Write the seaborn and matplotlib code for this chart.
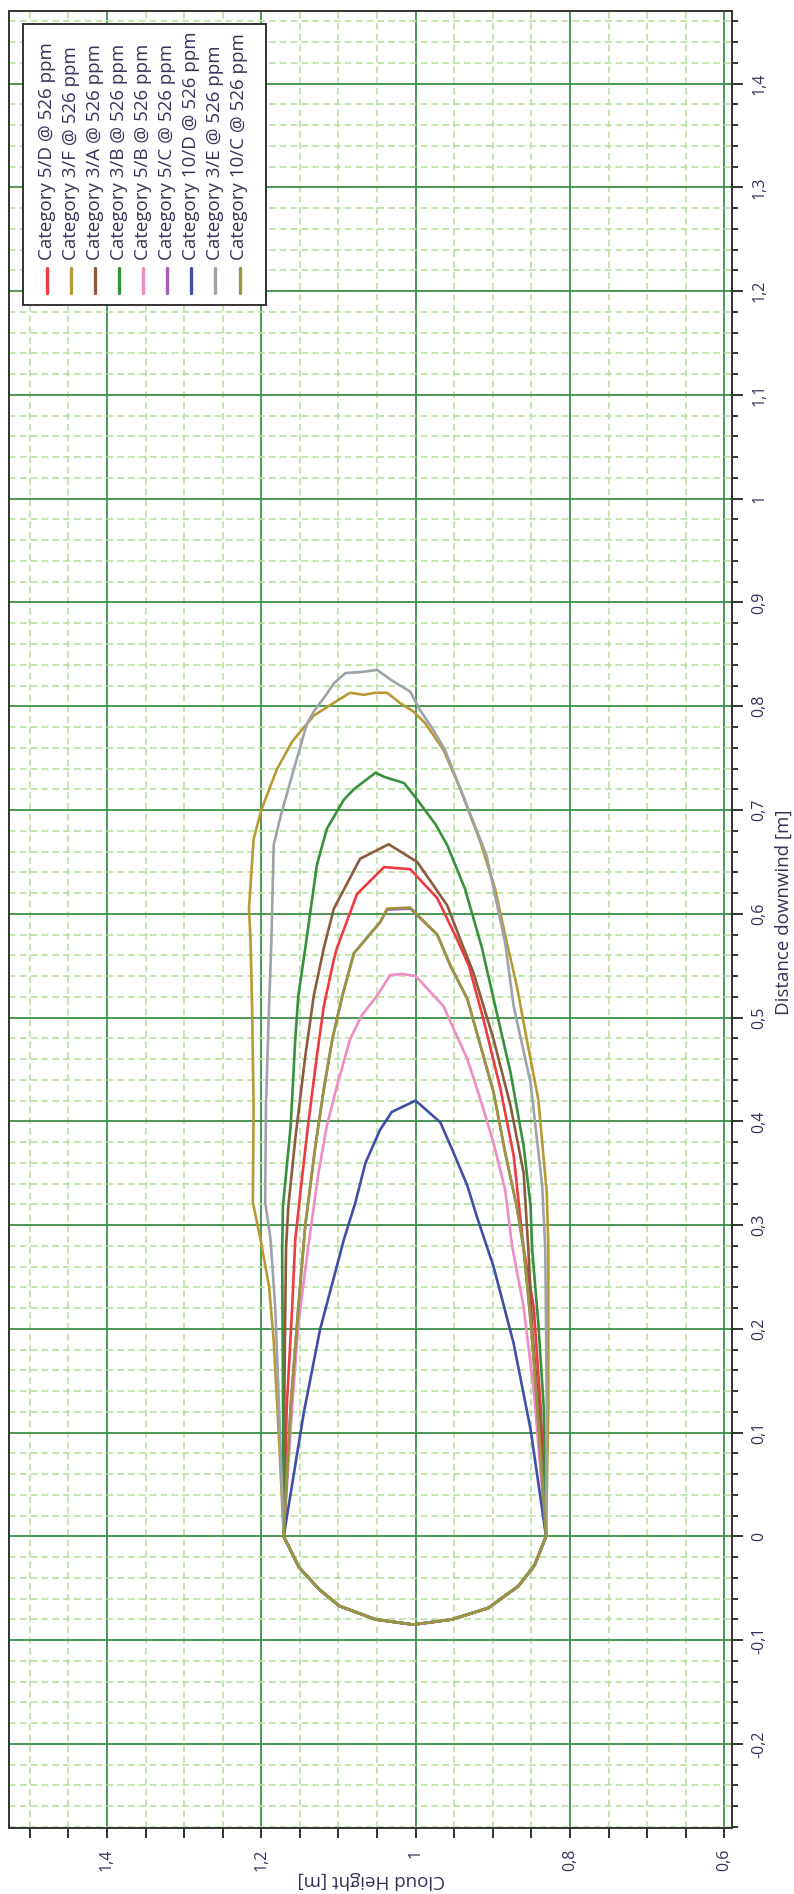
import matplotlib
matplotlib.use("Agg")
import matplotlib.pyplot as plt
from matplotlib.ticker import MultipleLocator, FuncFormatter
from matplotlib.patches import Rectangle
from matplotlib.lines import Line2D
import seaborn as sns
import pandas as pd

# ---------------- data (Cloud Height h [m], Distance downwind d [m]) ----------------
series_names = ["Category 5/D @ 526 ppm", "Category 3/F @ 526 ppm", "Category 3/A @ 526 ppm",
                "Category 3/B @ 526 ppm", "Category 5/B @ 526 ppm", "Category 5/C @ 526 ppm",
                "Category 10/D @ 526 ppm", "Category 3/E @ 526 ppm", "Category 10/C @ 526 ppm"]
series_colors = ["#ee3a40", "#b89a35", "#8c5a3c", "#37903c", "#ee8cc4", "#a55cb4",
                 "#3d4fa6", "#9ea2aa", "#9a963c"]

# shared upwind arc (from h=0.83 back to h=1.17)
arc_h = [0.831, 0.846, 0.867, 0.906, 0.953, 1.003, 1.052, 1.099, 1.125, 1.151, 1.171]
arc_d = [0.000, -0.028, -0.048, -0.069, -0.080, -0.085, -0.080, -0.067, -0.051, -0.030, 0.000]

cat_5D_h = [1.171, 1.167, 1.160, 1.156, 1.149, 1.139, 1.128, 1.119, 1.106, 1.102, 1.076, 1.041, 1.007,
            0.972, 0.946, 0.931, 0.912, 0.890, 0.873, 0.860, 0.847, 0.838, 0.831]
cat_5D_d = [0.000, 0.125, 0.221, 0.286, 0.334, 0.399, 0.463, 0.511, 0.556, 0.567, 0.619, 0.645, 0.643,
            0.615, 0.575, 0.550, 0.498, 0.431, 0.367, 0.277, 0.221, 0.125, 0.000]

cat_3F_h = [1.171, 1.177, 1.184, 1.190, 1.201, 1.211, 1.210, 1.212, 1.214, 1.216, 1.210, 1.200, 1.180,
            1.160, 1.132, 1.111, 1.085, 1.067, 1.052, 1.037, 1.020, 1.003, 0.988, 0.964, 0.942, 0.916,
            0.897, 0.882, 0.869, 0.856, 0.841, 0.830, 0.828, 0.828, 0.831]
cat_3F_d = [0.000, 0.093, 0.189, 0.241, 0.286, 0.322, 0.415, 0.511, 0.575, 0.605, 0.672, 0.700, 0.739,
            0.766, 0.791, 0.801, 0.813, 0.811, 0.813, 0.813, 0.803, 0.795, 0.784, 0.758, 0.720, 0.669,
            0.624, 0.573, 0.531, 0.479, 0.421, 0.331, 0.277, 0.125, 0.000]

cat_3A_h = [1.171, 1.170, 1.168, 1.165, 1.156, 1.143, 1.132, 1.119, 1.106, 1.072, 1.035, 0.998, 0.959,
            0.942, 0.925, 0.899, 0.877, 0.860, 0.854, 0.849, 0.838, 0.831]
cat_3A_d = [0.000, 0.150, 0.277, 0.318, 0.383, 0.463, 0.521, 0.567, 0.605, 0.653, 0.667, 0.650, 0.608,
            0.575, 0.543, 0.479, 0.415, 0.350, 0.277, 0.200, 0.100, 0.000]

cat_3B_h = [1.171, 1.172, 1.173, 1.172, 1.162, 1.156, 1.152, 1.143, 1.128, 1.115, 1.093, 1.080, 1.052,
            1.041, 1.015, 0.998, 0.974, 0.959, 0.936, 0.914, 0.895, 0.877, 0.860, 0.851, 0.849, 0.841,
            0.834, 0.831]
cat_3B_d = [0.000, 0.150, 0.277, 0.318, 0.395, 0.479, 0.521, 0.567, 0.647, 0.682, 0.710, 0.720, 0.736,
            0.732, 0.726, 0.710, 0.686, 0.666, 0.624, 0.567, 0.505, 0.447, 0.376, 0.318, 0.277, 0.205,
            0.125, 0.000]

cat_5B_h = [1.171, 1.160, 1.152, 1.139, 1.126, 1.115, 1.102, 1.085, 1.070, 1.050, 1.033, 1.017, 1.000,
            0.964, 0.933, 0.916, 0.899, 0.884, 0.875, 0.860, 0.847, 0.831]
cat_5B_d = [0.000, 0.125, 0.205, 0.280, 0.350, 0.396, 0.434, 0.479, 0.502, 0.521, 0.541, 0.542, 0.540,
            0.511, 0.460, 0.421, 0.379, 0.334, 0.280, 0.221, 0.141, 0.000]

cat_5C_h = [1.171, 1.162, 1.152, 1.143, 1.130, 1.119, 1.108, 1.095, 1.080, 1.046, 1.037, 1.007, 0.972,
            0.955, 0.933, 0.916, 0.899, 0.884, 0.869, 0.860, 0.850, 0.840, 0.831]
cat_5C_d = [0.000, 0.125, 0.221, 0.300, 0.376, 0.431, 0.479, 0.521, 0.562, 0.592, 0.604, 0.605, 0.580,
            0.550, 0.518, 0.473, 0.428, 0.370, 0.318, 0.277, 0.200, 0.100, 0.000]

cat_10D_h = [1.171, 1.145, 1.124, 1.093, 1.078, 1.065, 1.046, 1.031, 1.000, 0.968, 0.951, 0.933, 0.921,
             0.908, 0.899, 0.873, 0.851, 0.831]
cat_10D_d = [0.000, 0.119, 0.199, 0.286, 0.322, 0.360, 0.392, 0.409, 0.420, 0.399, 0.370, 0.338, 0.309,
             0.280, 0.260, 0.186, 0.103, 0.000]

cat_3E_h = [1.171, 1.177, 1.182, 1.188, 1.195, 1.194, 1.190, 1.187, 1.184, 1.175, 1.158, 1.141, 1.132,
            1.115, 1.106, 1.091, 1.070, 1.050, 1.031, 1.007, 0.994, 0.977, 0.962, 0.938, 0.908, 0.884,
            0.873, 0.851, 0.836, 0.832, 0.830, 0.831]
cat_3E_d = [0.000, 0.125, 0.221, 0.286, 0.322, 0.415, 0.511, 0.572, 0.666, 0.694, 0.739, 0.783, 0.795,
            0.812, 0.822, 0.832, 0.833, 0.835, 0.825, 0.814, 0.796, 0.777, 0.758, 0.713, 0.656, 0.572,
            0.511, 0.437, 0.338, 0.277, 0.125, 0.000]

cat_10C_h = [1.171, 1.162, 1.152, 1.143, 1.130, 1.119, 1.108, 1.095, 1.080, 1.046, 1.037, 1.007, 0.972,
             0.955, 0.933, 0.916, 0.899, 0.884, 0.869, 0.860, 0.850, 0.840, 0.831]
cat_10C_d = [0.000, 0.125, 0.221, 0.300, 0.376, 0.431, 0.479, 0.521, 0.562, 0.592, 0.605, 0.606, 0.580,
             0.550, 0.518, 0.473, 0.428, 0.370, 0.318, 0.277, 0.200, 0.100, 0.000]

series_h = [cat_5D_h, cat_3F_h, cat_3A_h, cat_3B_h, cat_5B_h, cat_5C_h, cat_10D_h, cat_3E_h, cat_10C_h]
series_d = [cat_5D_d, cat_3F_d, cat_3A_d, cat_3B_d, cat_5B_d, cat_5C_d, cat_10D_d, cat_3E_d, cat_10C_d]

x_label = "Cloud Height [m]"
y_label = "Distance downwind [m]"

# ---------------- build frame ----------------
rows = []
for name, hs, ds in zip(series_names, series_h, series_d):
    hh = list(hs) + list(arc_h)
    dd = list(ds) + list(arc_d)
    for i, (h, d) in enumerate(zip(hh, dd)):
        rows.append({"series": name, "h": h, "d": d, "i": i})
df = pd.DataFrame(rows)

sns.set_theme(style="white")
plt.rcParams["font.family"] = ["Open Sans", "DejaVu Sans"]
TXT = "#35315a"

W, H = 794, 1894
fig = plt.figure(figsize=(W / 100, H / 100), dpi=100)
L, R, T, B = 9, 732, 11, 1828
ax = fig.add_axes([L / W, 1 - B / H, (R - L) / W, (B - T) / H])

sns.lineplot(data=df, x="h", y="d", hue="series", hue_order=series_names,
             palette=dict(zip(series_names, series_colors)), sort=False, estimator=None,
             units="series", legend=False, linewidth=1.9, ax=ax)

ax.set_xlim(1.527, 0.590)
ax.set_ylim(-0.281, 1.470)
ax.set_xlabel("")
ax.set_ylabel("")

ax.xaxis.set_major_locator(MultipleLocator(0.2))
ax.xaxis.set_minor_locator(MultipleLocator(0.05))
ax.yaxis.set_major_locator(MultipleLocator(0.1))
ax.yaxis.set_minor_locator(MultipleLocator(0.02))

def fmt(v, pos):
    s = f"{v:.2f}".rstrip("0").rstrip(".")
    if s == "-0":
        s = "0"
    return s.replace(".", ",")

ax.xaxis.set_major_formatter(FuncFormatter(fmt))
ax.yaxis.set_major_formatter(FuncFormatter(fmt))

ax.set_axisbelow(True)
ax.grid(which="major", color="#3f8f47", linewidth=1.3, linestyle="-")
ax.grid(which="minor", color="#b9e0a3", linewidth=1.2, linestyle=(0, (4, 2.5)))

for sp in ax.spines.values():
    sp.set_visible(True)
    sp.set_color("#333333")
    sp.set_linewidth(1.4)

ax.yaxis.tick_right()
ax.tick_params(axis="y", which="major", direction="out", length=8, width=1.4, color="#333333",
               labelsize=11.5, labelcolor=TXT, labelrotation=90, pad=6, left=False, right=True)
ax.tick_params(axis="y", which="minor", direction="out", length=4.5, width=1.4, color="#333333",
               left=False, right=True)
ax.tick_params(axis="x", which="both", direction="out", length=7, width=1.4, color="#333333",
               bottom=True, top=False)
ax.tick_params(axis="x", which="major", labelsize=11.5, labelcolor=TXT, labelrotation=90, pad=8)
for lab in ax.get_yticklabels():
    lab.set_va("center")
    lab.set_ha("left")

# axis titles
fig.text(371 / W, 1 - 1880 / H, x_label, rotation=180, ha="center", va="center",
         fontsize=13.5, color=TXT)
fig.text(784 / W, 1 - 912 / H, y_label, rotation=90, ha="center", va="center",
         fontsize=13.5, color=TXT)

# legend box (drawn manually, entries read bottom-to-top)
fig.patches.append(Rectangle((22.7 / W, 1 - 305 / H), (265.7 - 22.7) / W, (305 - 24.3) / H,
                             transform=fig.transFigure, facecolor="white", edgecolor="#333333",
                             linewidth=1.4, zorder=5))
col_x0, col_dx = 46.7, 24.1
for k, (name, c) in enumerate(zip(series_names, series_colors)):
    px = col_x0 + k * col_dx
    fig.lines.append(Line2D([px / W, px / W], [1 - 293 / H, 1 - 268 / H], transform=fig.transFigure,
                            color=c, linewidth=2.4, zorder=6))
    fig.text(px / W, 1 - 260 / H, name, rotation=90, ha="center", va="bottom", fontsize=13.5,
             color=TXT, zorder=6)

fig.savefig("out.png", dpi=100, facecolor="white")
